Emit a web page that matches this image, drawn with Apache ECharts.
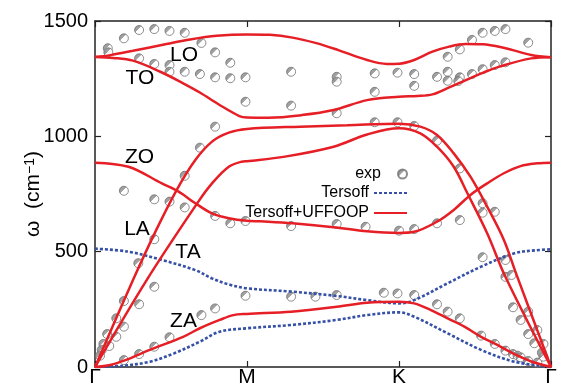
<!DOCTYPE html>
<html><head><meta charset="utf-8">
<script src="https://cdn.jsdelivr.net/npm/echarts@6/dist/echarts.min.js"></script>
<style>html,body{margin:0;padding:0;background:#fff}#c{width:565px;height:386px}</style>
</head><body><div id="c"></div>
<script>
// high-symmetry path labels (x = 0,1,2,3)
const pathLabels = ['Γ', 'M', 'K', 'Γ'];
const yMin = 0, yMax = 1500, yStep = 500;

// Tersoff+UFFOOP branches  [path coordinate, omega (cm^-1)]
const uffLO = [[0,1344],[0.1,1352],[0.25,1371],[0.47,1400],[0.625,1420],[0.8,1436],[1.0,1442],[1.15,1440],[1.3,1428],[1.45,1405],[1.6,1374],[1.79,1331],[1.92,1314],[2.0,1315],[2.1,1331],[2.22,1367],[2.33,1389],[2.44,1400],[2.55,1399],[2.7,1382],[2.87,1353],[3,1343]];
const uffTO = [[0,1344],[0.12,1340],[0.25,1328],[0.43,1280],[0.58,1230],[0.69,1190],[0.82,1136],[0.95,1088],[1.0,1082],[1.14,1081],[1.36,1092],[1.57,1114],[1.79,1157],[2.0,1172],[2.12,1175],[2.22,1182],[2.33,1212],[2.44,1244],[2.55,1275],[2.66,1302],[2.87,1338],[3,1343]];
const uffZO = [[0,886],[0.22,868],[0.44,796],[0.55,760],[0.66,710],[0.77,666],[0.88,645],[1.0,634],[1.14,630],[1.3,623],[1.57,606],[1.79,588],[2.0,581],[2.1,586],[2.25,630],[2.36,681],[2.47,746],[2.58,796],[2.69,840],[2.8,871],[2.91,883],[3,886]];
const uffLA = [[0,0],[0.25,377],[0.4,590],[0.537,767],[0.66,897],[0.77,977],[0.88,1016],[1.0,1032],[1.35,1042],[1.66,1048],[2.0,1055],[2.14,1042],[2.25,1006],[2.36,926],[2.47,825],[2.58,695],[2.69,551],[2.77,406],[3,0]];
const uffTA = [[0,0],[0.34,377],[0.68,717],[0.77,796],[0.88,868],[0.965,890],[1.0,892],[1.25,912],[1.57,955],[1.79,1008],[2.0,1035],[2.14,1013],[2.25,955],[2.36,868],[2.45,753],[2.58,580],[2.70,391],[3,0]];
const uffZA = [[0,0],[0.1,9],[0.2,30],[0.36,74],[0.58,131],[0.69,168],[0.82,204],[0.91,225],[1.0,230],[1.29,240],[1.59,261],[1.79,279],[2.0,283],[2.1,276],[2.21,247],[2.32,211],[2.43,175],[2.54,131],[2.65,95],[2.76,56],[2.87,24],[3,0]];

// Tersoff out-of-plane branches
const terZO = [[0,513],[0.22,500],[0.44,464],[0.66,420],[0.77,384],[0.88,358],[1.0,341],[1.29,327],[1.59,308],[1.79,290],[2.0,276],[2.1,290],[2.32,363],[2.54,435],[2.76,493],[2.9,506],[3,510]];
const terZA = [[0,0],[0.19,6],[0.36,23],[0.52,59],[0.69,110],[0.82,153],[1.0,168],[1.29,182],[1.59,204],[1.79,225],[2.0,237],[2.1,218],[2.32,146],[2.54,74],[2.76,23],[3,0]];

// experimental points
const expPts = [[0.084,1382],[0.088,1364],[0.19,1425],[0.29,1461],[0.39,1465],[0.49,1457],[0.59,1449],[0.70,1405],
[0.29,1338],[0.39,1314],[0.49,1309],[0.49,1280],[0.59,1280],[0.69,1270],
[0.79,1364],[0.89,1319],[0.79,1256],[0.89,1252],[0.99,1256],[1.29,1280],[1.59,1258],[1.59,1237],[1.84,1273],[1.99,1276],
[0.99,1150],[1.29,1133],[1.59,1100],[1.84,1193],
[0.79,1042],[0.69,951],[1.84,1061],[1.99,1061],
[2.10,1270],[2.10,1219],[2.25,1258],[2.32,1280],[2.32,1241],[2.40,1256],[2.39,1240],[2.48,1270],[2.55,1291],[2.63,1309],[2.70,1321],
[2.32,1345],[2.40,1377],[2.48,1418],[2.55,1449],[2.63,1457],[2.70,1465],[2.85,1406],
[2.10,1045],[2.25,981],[2.40,861],
[0.59,829],[0.19,764],
[0.39,727],[0.49,717],[0.59,692],[0.79,655],[0.89,623],[0.99,633],[0.39,554],[0.285,450],
[1.29,611],[1.59,620],[1.78,608],[2.0,591],[2.10,598],[2.25,623],[2.40,637],
[2.55,710],[2.55,669],[2.63,673],[2.55,476],[2.70,464],[2.70,391],[2.74,399],
[0.39,348],[0.19,286],[0.29,272],[0.14,211],[0.19,175],[0.08,143],[0.14,131],[0.055,100],[0.094,91],[0.044,74],[0.033,49],
[0.19,30],[0.29,56],[0.39,88],[0.49,129],[0.70,225],[0.79,254],
[0.99,309],[1.29,305],[1.45,305],[1.59,312],[1.90,322],[1.99,319],[2.10,312],
[2.25,272],[2.32,240],[2.40,211],[2.54,136],[2.63,100],[2.70,71],[2.75,56],[2.78,49],[2.80,42],[2.85,26],[2.91,19],
[2.75,259],[2.85,240],[2.80,204],[2.85,143],[2.91,160],[2.89,103],[2.95,100],[2.94,62],[2.95,45]];

// branch labels
const branchNames = ['LO','TO','ZO','LA','TA','ZA'];

const FONT = '"Liberation Sans", Arial, Helvetica, sans-serif';
const RED = '#e61e25';
const BLUE = '#3550a6';
const AX = '#222';

const chart = echarts.init(document.getElementById('c'), null, {renderer: 'canvas'});

function redLine(data) {
  return {type: 'line', name: 'Tersoff+UFFOOP', data: data, smooth: 0.35, symbol: 'none',
    lineStyle: {color: RED, width: 2.5}, itemStyle: {color: RED}, z: 4, animation: false};
}
function blueLine(data) {
  return {type: 'line', name: 'Tersoff', data: data, smooth: 0.35, symbol: 'none',
    lineStyle: {color: BLUE, width: 2.6, type: [3, 2]}, itemStyle: {color: BLUE}, z: 3, animation: false};
}

const expStyle = {
  color: new echarts.graphic.LinearGradient(0, 0, 1, 1, [
    {offset: 0, color: '#7c7c7c'}, {offset: 0.42, color: '#8c8c8c'},
    {offset: 0.44, color: '#ffffff'}, {offset: 1, color: '#ffffff'}]),
  borderColor: '#707070', borderWidth: 1
};

const labelPos = {LO: [184, 55], TO: [140, 78], ZO: [139.5, 157.5], LA: [137, 229.5], TA: [188, 252], ZA: [183.5, 321.7]};

const legendCommon = {right: 157, orient: 'horizontal', align: 'right', itemWidth: 33, itemHeight: 14,
  padding: 0, textStyle: {fontFamily: FONT, fontSize: 16, color: '#000'}, selectedMode: false};

const option = {
  animation: false,
  backgroundColor: '#fff',
  grid: {left: 95, right: 14, top: 21, bottom: 19, containLabel: false, outerBoundsMode: 'none'},
  legend: [
    Object.assign({}, legendCommon, {top: 166, data: ['exp'], itemHeight: 9}),
    Object.assign({}, legendCommon, {top: 185, data: ['Tersoff'], itemStyle: {opacity: 0}}),
    Object.assign({}, legendCommon, {top: 205, data: ['Tersoff+UFFOOP'], itemStyle: {opacity: 0}})
  ],
  xAxis: [{
    type: 'value', min: 0, max: 3, interval: 1, position: 'bottom',
    axisLine: {show: true, onZero: false, lineStyle: {color: AX, width: 1.5}},
    axisTick: {show: true, inside: true, length: 6, lineStyle: {color: AX, width: 1.2}},
    axisLabel: {fontFamily: FONT, fontSize: 21, color: '#000', margin: 0,
      formatter: v => pathLabels[Math.round(v)]},
    splitLine: {show: false}
  }, {
    type: 'value', min: 0, max: 3, interval: 1, position: 'top',
    axisLine: {show: true, onZero: false, lineStyle: {color: AX, width: 1.5}},
    axisTick: {show: true, inside: true, length: 6, lineStyle: {color: AX, width: 1.2}},
    axisLabel: {show: false}, splitLine: {show: false}
  }],
  yAxis: [{
    type: 'value', min: yMin, max: yMax, interval: yStep, position: 'left',
    name: 'ω  (cm{sup|−1})', nameLocation: 'middle', nameGap: 51, nameMoveOverlap: false,
    nameTextStyle: {fontFamily: FONT, fontSize: 21, color: '#000',
      rich: {sup: {fontFamily: FONT, fontSize: 14, color: '#000', verticalAlign: 'top', lineHeight: 21}}},
    axisLine: {show: true, onZero: false, lineStyle: {color: AX, width: 1.5}},
    axisTick: {show: true, inside: true, length: 6, lineStyle: {color: AX, width: 1.2}},
    axisLabel: {fontFamily: FONT, fontSize: 20, color: '#000', margin: 7, formatter: v => String(v)},
    splitLine: {show: false}
  }, {
    type: 'value', min: yMin, max: yMax, interval: yStep, position: 'right',
    axisLine: {show: true, onZero: false, lineStyle: {color: AX, width: 1.5}},
    axisTick: {show: true, inside: true, length: 6, lineStyle: {color: AX, width: 1.2}},
    axisLabel: {show: false}, splitLine: {show: false}
  }],
  series: [
    {type: 'scatter', name: 'exp', data: expPts, symbol: 'circle', symbolSize: 9, itemStyle: expStyle, z: 2, animation: false},
    blueLine(terZO), blueLine(terZA),
    redLine(uffLO), redLine(uffTO), redLine(uffZO), redLine(uffLA), redLine(uffTA), redLine(uffZA)
  ],
  graphic: branchNames.map(n => ({
    type: 'text', x: labelPos[n][0], y: labelPos[n][1], z: 10,
    style: {text: n, fontFamily: FONT, fontSize: 21, fill: '#000', align: 'center', verticalAlign: 'middle'}
  }))
};
chart.setOption(option);
</script>
</body></html>
